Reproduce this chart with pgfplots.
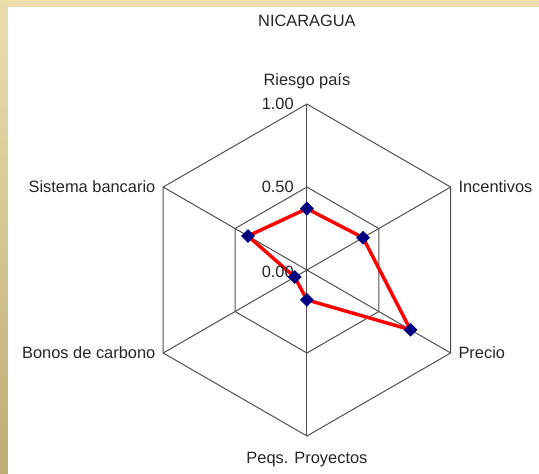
\documentclass[border=0pt]{standalone}
\usepackage{pgfplots}
\pgfplotsset{compat=1.18}
\usepackage{fontspec}
\setmainfont{Liberation Sans}
\definecolor{frameL}{RGB}{236,222,172}
\definecolor{frameD}{RGB}{190,172,118}
\definecolor{gridc}{RGB}{80,80,80}
\definecolor{mk}{RGB}{0,0,128}
\begin{document}
\begin{tikzpicture}
\begin{axis}[
  scale only axis, width=404.25pt, height=355.5pt,
  xmin=-1.849, xmax=1.398, ymin=-1.229, ymax=1.627,
  hide axis, clip=false,
  every axis plot/.append style={data cs=polar},
]
% frame
\fill[top color=frameL, bottom color=frameD] (rel axis cs:0,0) rectangle (rel axis cs:1,1);
\fill[white] (rel axis cs:0.01484,0) rectangle (rel axis cs:1,0.98523);
% grid
\addplot[gridc, line width=0.75pt, no marks] coordinates {(90,1) (30,1) (-30,1) (-90,1) (-150,1) (150,1) (90,1)};
\addplot[gridc, line width=0.75pt, no marks] coordinates {(90,0.5) (30,0.5) (-30,0.5) (-90,0.5) (-150,0.5) (150,0.5) (90,0.5)};
\addplot[gridc, line width=0.75pt, no marks] coordinates {(90,1) (0,0) (-90,1)};
\addplot[gridc, line width=0.75pt, no marks] coordinates {(30,1) (0,0) (-150,1)};
\addplot[gridc, line width=0.75pt, no marks] coordinates {(150,1) (0,0) (-30,1)};
% data
\addplot[red, line width=2.6pt, mark=square*, mark size=3.4pt,
  mark options={fill=mk, draw=mk, line width=0.5pt, rotate=45}]
  coordinates {(90,0.37) (30,0.39) (-30,0.72) (-90,0.18) (-150,0.085) (150,0.41) (90,0.37)};
% labels
\begin{scope}[font=\fontsize{12.3}{14}\selectfont, text=black!85]
\node at (axis cs:0,1.50) {NICARAGUA};
\node[anchor=south] at (axis cs:0,1.06) {Riesgo país};
\node[anchor=west] at (axis cs:0.885,0.5) {Incentivos};
\node[anchor=west] at (axis cs:0.885,-0.5) {Precio};
\node[anchor=north] at (axis cs:0,-1.07) {Peqs. Proyectos};
\node[anchor=east] at (axis cs:-0.885,-0.5) {Bonos de carbono};
\node[anchor=east] at (axis cs:-0.885,0.5) {Sistema bancario};
\node[anchor=east, inner sep=1pt] at (axis cs:-0.07,1.0) {1.00};
\node[anchor=east, inner sep=1pt] at (axis cs:-0.07,0.5) {0.50};
\node[anchor=east, inner sep=1pt] at (axis cs:-0.07,-0.01) {0.00};
\end{scope}
\end{axis}
\end{tikzpicture}
\end{document}
